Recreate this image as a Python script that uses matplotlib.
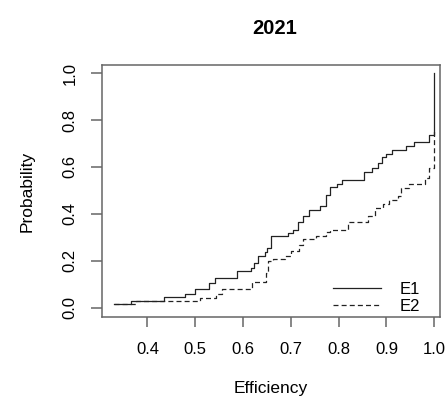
import numpy as np
import matplotlib
matplotlib.use("Agg")
import matplotlib.pyplot as plt

plt.rcParams['font.family'] = ['Liberation Sans', 'DejaVu Sans']

# step points (efficiency where the step happens, cumulative prob after it)
e1_x = [0.331, 0.366, 0.435, 0.479, 0.500, 0.528, 0.542, 0.587, 0.617, 0.622, 0.631,
        0.645, 0.650, 0.659, 0.695, 0.704, 0.716, 0.726, 0.737, 0.762, 0.774, 0.782,
        0.796, 0.807, 0.852, 0.869, 0.882, 0.891, 0.899, 0.912, 0.941, 0.958, 0.990,
        0.999, 1.000]
e1_y = [0.014, 0.028, 0.045, 0.059, 0.078, 0.106, 0.125, 0.156, 0.170, 0.191, 0.220,
        0.237, 0.255, 0.305, 0.319, 0.333, 0.364, 0.390, 0.415, 0.432, 0.482, 0.513,
        0.529, 0.543, 0.579, 0.596, 0.617, 0.641, 0.657, 0.674, 0.688, 0.706, 0.737,
        0.754, 1.000]

e2_x = [0.331, 0.376, 0.509, 0.544, 0.556, 0.619, 0.648, 0.652, 0.662, 0.687, 0.700,
        0.717, 0.726, 0.753, 0.774, 0.781, 0.819, 0.861, 0.875, 0.892, 0.906, 0.924,
        0.931, 0.948, 0.981, 0.990, 0.999, 1.000]
e2_y = [0.014, 0.028, 0.042, 0.059, 0.078, 0.109, 0.149, 0.198, 0.208, 0.220, 0.241,
        0.269, 0.291, 0.305, 0.322, 0.333, 0.364, 0.390, 0.425, 0.444, 0.461, 0.475,
        0.510, 0.528, 0.553, 0.596, 0.617, 0.752]

x_ticks = [0.4, 0.5, 0.6, 0.7, 0.8, 0.9, 1.0]
y_ticks = [0.0, 0.2, 0.4, 0.6, 0.8, 1.0]

fig = plt.figure(figsize=(4.48, 4.01), dpi=100)
ax = fig.add_axes([102 / 448, 1 - 317 / 401, 338 / 448, 252 / 401])

ax.step(e1_x, e1_y, where='post', color='#222222', lw=0.9, label='E1')
ax.step(e2_x, e2_y, where='post', color='#222222', lw=0.9,
        linestyle=(0, (4, 2.5)), label='E2')

ax.set_xlim(0.305, 1.012)
ax.set_ylim(-0.04, 1.035)
ax.set_xticks(x_ticks)
ax.set_xticklabels(['%.1f' % v for v in x_ticks])
ax.set_yticks(y_ticks)
ax.set_yticklabels(['%.1f' % v for v in y_ticks], rotation=90, va='center')

for s in ax.spines.values():
    s.set_color('#666666')
    s.set_linewidth(1.1)
ax.tick_params(axis='x', length=7.2, width=1.1, color='#666666', pad=10.5, labelsize=12)
ax.tick_params(axis='y', length=7.9, width=1.1, color='#666666', pad=9.5, labelsize=12)

ax.set_xlabel('Efficiency', fontsize=12.5)
ax.xaxis.set_label_coords(0.5, -0.255)
ax.set_ylabel('Probability', fontsize=12.5)
ax.yaxis.set_label_coords(-0.198, 0.5)
ax.set_title('2021', fontweight='bold', fontsize=14.5, pad=22, x=0.51)

ax.legend(loc='upper left', bbox_to_anchor=(0.683, 0.14), frameon=False,
          fontsize=12, handlelength=2.9, handletextpad=1.1, labelspacing=0.15,
          borderpad=0, borderaxespad=0)

fig.savefig('out.png', dpi=100)
